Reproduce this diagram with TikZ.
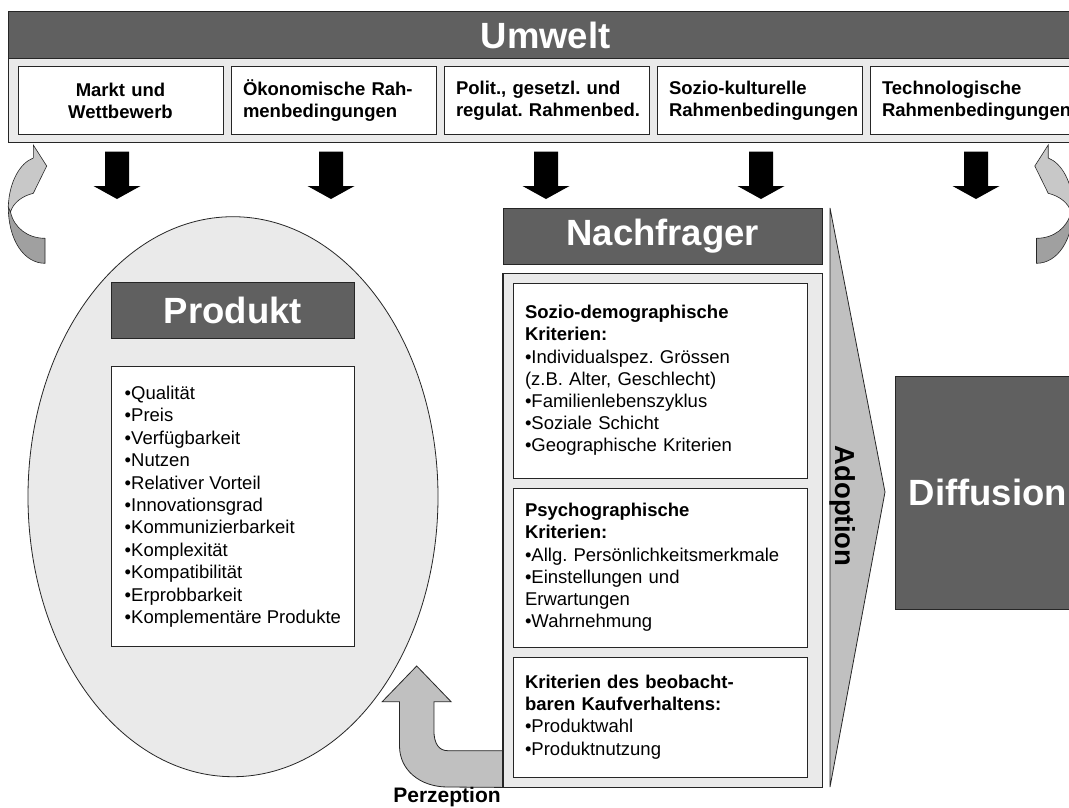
\documentclass[tikz,border=0pt]{standalone}
\usepackage{fontspec}
\setmainfont{Liberation Sans}
\usetikzlibrary{shapes.geometric}
\definecolor{dgray}{RGB}{96,96,96}
\definecolor{lgray}{RGB}{234,234,234}
\definecolor{mgray}{RGB}{192,192,192}
\definecolor{cupper}{RGB}{200,200,200}
\definecolor{clower}{RGB}{160,160,160}
\tikzset{
  outline/.style={draw=black!85, line width=0.8pt},
  darkbox/.style={outline, fill=dgray, text=white, font=\fontsize{36.5}{40}\selectfont\bfseries, inner sep=0pt},
  topbox/.style={outline, fill=white, font=\fontsize{18.5}{22}\selectfont\bfseries, minimum width=205pt, minimum height=68pt, inner xsep=12pt, inner ysep=0pt, text width=181pt, align=left},
  critbox/.style={outline, fill=white, font=\fontsize{18.5}{22.2}\selectfont, minimum width=294pt, inner xsep=12pt, inner ysep=0pt, text width=270pt, align=left},
  downarr/.pic={\fill[black] (-12,0) -- (12,0) -- (12,34.3) -- (23.5,34.3) -- (0,47.3) -- (-23.5,34.3) -- (-12,34.3) -- cycle;},
  curvedarr/.pic={
    \draw[outline, line width=0.6pt, fill=clower] (8.3,207) .. controls (8.3,240) and (24,263.3) .. (45,263.3) -- (45,238.3) .. controls (28,238.3) and (14,228) .. (10.5,212) -- cycle;
    \draw[outline, line width=0.6pt, fill=cupper] (8.3,207) .. controls (9,182) and (20,163) .. (33.3,158) -- (33.3,145) -- (46.7,166) -- (33.3,193.3) .. controls (22,196) and (13,203) .. (10.5,212) -- cycle;
  },
}
\begin{document}
\frenchspacing
\begin{tikzpicture}[x=1pt,y=-1pt]
\useasboundingbox (0,0) rectangle (1069,807);
\clip (0,0) rectangle (1069,807);
\fill[white] (0,0) rectangle (1069,807);

% Umwelt
\node[darkbox, minimum width=1074pt, minimum height=46.6pt] (umwelt) at (545.6,35) {Umwelt};
\node[outline, fill=lgray, minimum width=1074pt, minimum height=84.4pt, inner sep=0pt] (band) at (545.6,100.5) {};
\node[topbox, align=center] (b1) at (120.5,100.7) {\mbox{Markt und}\\\mbox{Wettbewerb}};
\node[topbox] (b2) at (333.5,100.7) {\mbox{Ökonomische Rah-}\\\mbox{menbedingungen}};
\node[topbox] (b3) at (546.5,100.7) {\mbox{Polit., gesetzl. und}\\\mbox{regulat. Rahmenbed.}};
\node[topbox] (b4) at (759.5,100.7) {\mbox{Sozio-kulturelle}\\\mbox{Rahmenbedingungen}};
\node[topbox] (b5) at (972.5,100.7) {\mbox{Technologische}\\\mbox{Rahmenbedingungen}};

% down arrows
\pic at (117,151.7) {downarr};
\pic at (331,151.7) {downarr};
\pic at (546,151.7) {downarr};
\pic at (761,151.7) {downarr};
\pic at (976,151.7) {downarr};

% curved arrows
\pic at (0,0) {curvedarr};
\pic[xscale=-1] at (1081.5,0) {curvedarr};

% Produkt
\node[ellipse, outline, fill=lgray, minimum width=410pt, minimum height=560pt, inner sep=0pt] (ell) at (233,496.7) {};
\node[darkbox, minimum width=242.3pt, minimum height=56pt] (produkt) at (232.85,310.3) {Produkt};
\node[outline, fill=white, minimum width=242.3pt, minimum height=280pt, inner sep=0pt, align=left, font=\fontsize{18.5}{22.4}\selectfont] (plist) at (232.85,506.7)
 {•Qualität\\•Preis\\•Verfügbarkeit\\•Nutzen\\•Relativer Vorteil\\•Innovationsgrad\\•Kommunizierbarkeit\\•Komplexität\\•Kompatibilität\\•Erprobbarkeit\\•Komplementäre Produkte};

% Perzeption arrow
\node[outline, fill=lgray, minimum width=319pt, minimum height=514pt, inner sep=0pt] (cont) at (662.5,530) {};
\draw[outline, fill=mgray] (cont.south west) -- (447.7,787) .. controls (420,787) and (399.5,770) .. (399.5,746) -- (399.5,701.7) -- (382.2,701.7) -- (416.7,666) -- (451.1,701.7) -- (433.9,701.7) -- (433.9,730) .. controls (433.9,744) and (439,750.7) .. (448,750.7) -- (cont.west |- 0,750.7) -- cycle;
\draw[outline] (cont.south west) -- (cont.north west);
\node[font=\fontsize{21}{24}\selectfont\bfseries] (perz) at (447,797) {Perzeption};

% Nachfrager
\node[darkbox, minimum width=318.5pt, minimum height=56pt] (nach) at (662.75,236) {Nachfrager};
\node[critbox, minimum height=195pt] (ca) at (660,380.5)
 {{\bfseries Sozio-demographische\\Kriterien:}\\•Individualspez. Grössen\\(z.B. Alter, Geschlecht)\\•Familienlebenszyklus\\•Soziale Schicht\\•Geographische Kriterien};
\node[critbox, minimum height=159pt] (cb) at (660,567.5)
 {{\bfseries Psychographische\\Kriterien:}\\•Allg. Persönlichkeitsmerkmale\\•Einstellungen und\\Erwartungen\\•Wahrnehmung};
\node[critbox, minimum height=120pt] (cc) at (660,717)
 {{\bfseries Kriterien des beobacht-\\baren Kaufverhaltens:}\\•Produktwahl\\•Produktnutzung};

% Adoption
\draw[outline, fill=mgray] (830,208) -- (885,492) -- (830,787) -- cycle;
\node[rotate=-90, font=\fontsize{27.5}{30}\selectfont\bfseries] (adopt) at (843,506) {Adoption};

% Diffusion
\node[darkbox, minimum width=184.5pt, minimum height=233pt] (diff) at (987.75,492.5) {Diffusion};
\end{tikzpicture}
\end{document}
